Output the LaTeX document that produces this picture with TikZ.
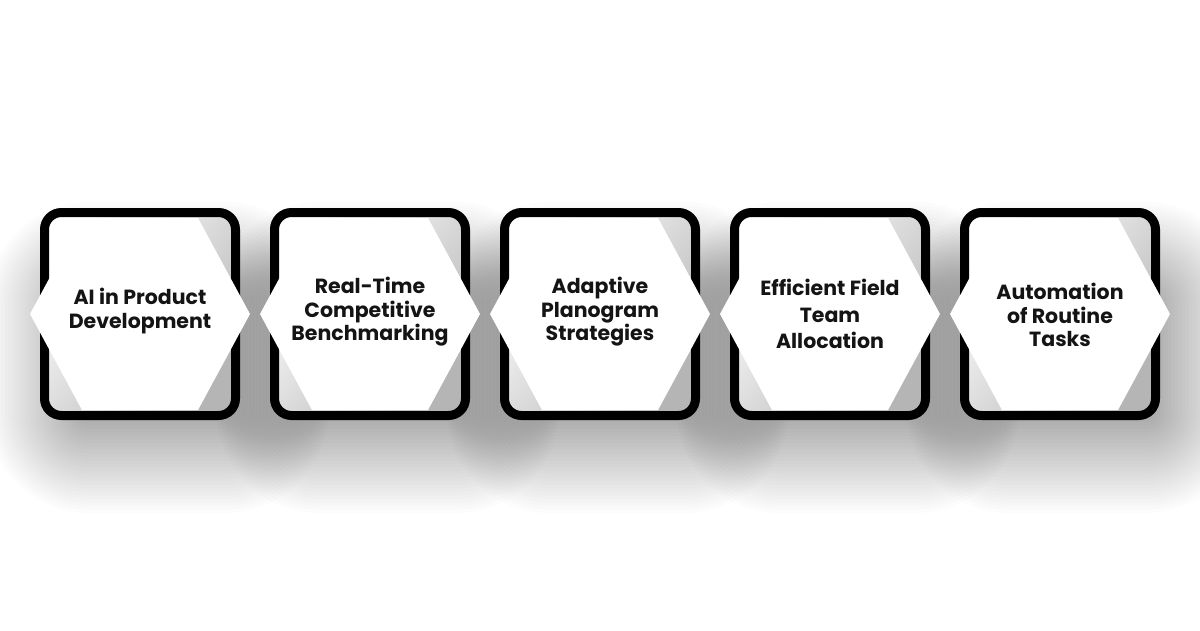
\documentclass[tikz,border=0pt]{standalone}
\usepackage{fontspec}
\setmainfont{Poppins}
\begin{document}
\begin{tikzpicture}[
  x=1pt, y=-1pt,
  cardframe/.style={draw=black, line width=9pt, rounded corners=17pt, top color=white, bottom color=gray!58, shading angle=50},
  hexfill/.style={fill=white},
  shadowpart/.style={fill=black, fill opacity=.01},
  cardtext/.style={align=center, font=\fontsize{20.5}{23.5}\selectfont\bfseries, text=black!92, inner sep=0pt}
]
\useasboundingbox (0,0) rectangle (1200,630);
\fill[white] (0,0) rectangle (1200,630);

% Soft shadows
\foreach \x in {40,270,500,730,960}
  \foreach \k in {1,...,28}
    \fill[shadowpart, rounded corners=3.5*\k+4] ({\x+45-3.5*\k},{300-3.5*\k}) rectangle ({\x+190+3.5*\k},{415+3.5*\k});

% Cards
\foreach \x in {40,270,500,730,960}
{
  \draw[cardframe] (\x+4.5,212.5) rectangle (\x+195.5,415.5);
  \fill[hexfill] (\x-10,314) -- (\x+42,218) -- (\x+158,218) -- (\x+210,314)
    -- (\x+158,410) -- (\x+42,410) -- cycle;
}

% Labels
\node[cardtext] (t1) at (140,311) {AI in Product\\Development};
\node[cardtext] (t2) at (370,312) {Real-Time\\Competitive\\Benchmarking};
\node[cardtext] (t3) at (600,312) {Adaptive\\Planogram\\Strategies};
\node[cardtext] (t4) at (830,314) {Efficient Field\\[3pt]Team\\[3pt]Allocation};
\node[cardtext] (t5) at (1060,315) {Automation\\of Routine\\Tasks};

\end{tikzpicture}
\end{document}
